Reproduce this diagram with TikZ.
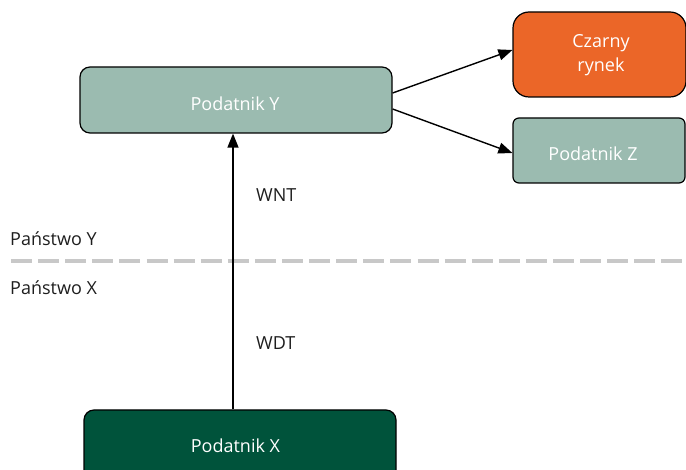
\documentclass[tikz,border=0pt]{standalone}
\usepackage{fontspec}
\setmainfont{Open Sans}
\usetikzlibrary{arrows.meta}
\definecolor{sage}{HTML}{9BBBB0}
\definecolor{orangec}{HTML}{EB6628}
\definecolor{darkg}{HTML}{00533B}
\definecolor{dashgray}{HTML}{C8C8C8}
\definecolor{txtdark}{HTML}{1E1E1E}
\begin{document}
\begin{tikzpicture}[x=1pt,y=-1pt,
  box/.style={draw=black, line width=1.2pt, inner sep=0pt},
  boxtext/.style={font=\fontsize{18}{23.5}\selectfont, text=white, inner sep=0pt},
  lbl/.style={font=\fontsize{18}{23.5}\selectfont, text=txtdark, inner sep=0pt},
  arr/.style={line width=1.4pt, -{Triangle[length=14pt,width=11pt]}}]
\useasboundingbox (0,0) rectangle (686,470);

% separator
\coordinate (dl) at (11,261);
\coordinate (dr) at (690,261);
\draw[dashgray, line width=4.5pt, dash pattern=on 21pt off 6.1pt] (dl) -- (dr);

% boxes
\node[box, fill=sage, rounded corners=10pt, minimum width=312pt, minimum height=66pt] (Y) at (236,100) {};
\node[boxtext, anchor=base] (Yt) at (235,111) {Podatnik Y};

\node[box, fill=orangec, rounded corners=16pt, minimum width=173pt, minimum height=85pt] (C) at (599.5,54.5) {};
\node[boxtext, align=center] (Ct) at (601,55) {Czarny\\rynek};

\node[box, fill=sage, rounded corners=6pt, minimum width=172pt, minimum height=65pt] (Z) at (599,150.5) {};
\node[boxtext, anchor=base] (Zt) at (593,160.7) {Podatnik Z};

\node[box, fill=darkg, rounded corners=10pt, minimum width=312pt, minimum height=72pt] (X) at (240,446) {};
\node[boxtext, anchor=base] (Xt) at (235.5,452.7) {Podatnik X};

% connectors
\coordinate (ax) at (233,0);
\draw[arr] (X.north -| ax) -- (Y.south -| ax);
\draw[arr] ([yshift=7pt]Y.east) -- ([yshift=4.5pt]C.west);
\draw[arr] ([yshift=-9pt]Y.east) -- ([yshift=-2.5pt]Z.west);

% labels
\node[lbl, anchor=base west] (WNT) at (256,202) {WNT};
\node[lbl, anchor=base west] (WDT) at (256,350) {WDT};
\node[lbl, anchor=base west] (PY) at (10,246) {Państwo Y};
\node[lbl, anchor=base west] (PX) at (10,295) {Państwo X};
\end{tikzpicture}
\end{document}
